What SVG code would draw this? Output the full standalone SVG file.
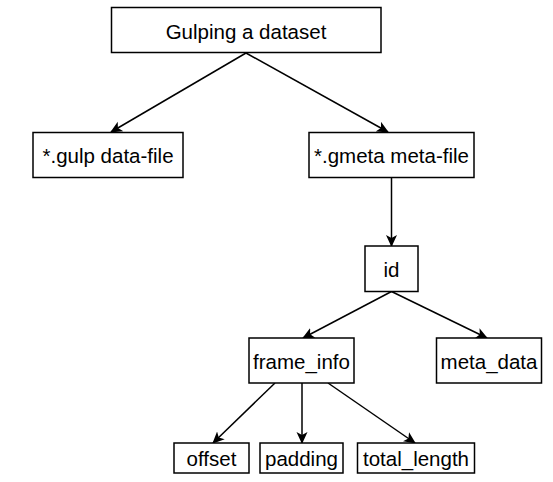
<svg xmlns="http://www.w3.org/2000/svg" width="553" height="482" viewBox="0 0 553 482">
<style>
rect.n{fill:#fff;stroke:#000;stroke-width:1.5}
text{font-family:"Liberation Sans",Arial,sans-serif;font-size:20.5px;fill:#000;text-anchor:middle}
.c line{stroke:#000;stroke-width:1.5;marker-end:url(#ah)}
</style>
<defs>
<marker id="ah" viewBox="0 0 12 12" refX="11" refY="6" markerWidth="12" markerHeight="12" markerUnits="userSpaceOnUse" orient="auto">
<path d="M0,0.5 L12,6 L0,11.5 L3,6 z" fill="#000"/>
</marker>
</defs>
<rect width="553" height="482" fill="#fff"/>
<g class="c" id="connectors">
<line x1="246" y1="53" x2="111" y2="132"/>
<line x1="246" y1="53" x2="388" y2="132"/>
<line x1="391.5" y1="177" x2="391.5" y2="246"/>
<line x1="391.5" y1="291.5" x2="303" y2="338"/>
<line x1="391.5" y1="291.5" x2="487" y2="338"/>
<line x1="275" y1="383" x2="213" y2="443"/>
<line x1="302" y1="383" x2="302" y2="443"/>
<line x1="328" y1="383" x2="415" y2="443"/>
</g>
<g id="root"><rect class="n" x="111.5" y="7.5" width="269.5" height="45"/><text x="246" y="38.5">Gulping a dataset</text></g>
<g id="gulp"><rect class="n" x="33" y="132.5" width="150" height="45"/><text x="108" y="163">*.gulp data-file</text></g>
<g id="gmeta"><rect class="n" x="309" y="132.5" width="165" height="45"/><text x="391.5" y="163">*.gmeta meta-file</text></g>
<g id="id"><rect class="n" x="365" y="246" width="53" height="45.5"/><text x="391.5" y="276.5">id</text></g>
<g id="frame_info"><rect class="n" x="249" y="338" width="105" height="45"/><text x="301.5" y="368.5">frame_info</text></g>
<g id="meta_data"><rect class="n" x="436.5" y="338" width="105" height="45"/><text x="489" y="368.5">meta_data</text></g>
<g id="offset"><rect class="n" x="174" y="443" width="75" height="30"/><text x="211.5" y="465.5">offset</text></g>
<g id="padding"><rect class="n" x="260" y="443" width="83" height="30"/><text x="301.5" y="465.5">padding</text></g>
<g id="total_length"><rect class="n" x="357.5" y="443" width="117" height="30"/><text x="416" y="465.5">total_length</text></g>
</svg>
